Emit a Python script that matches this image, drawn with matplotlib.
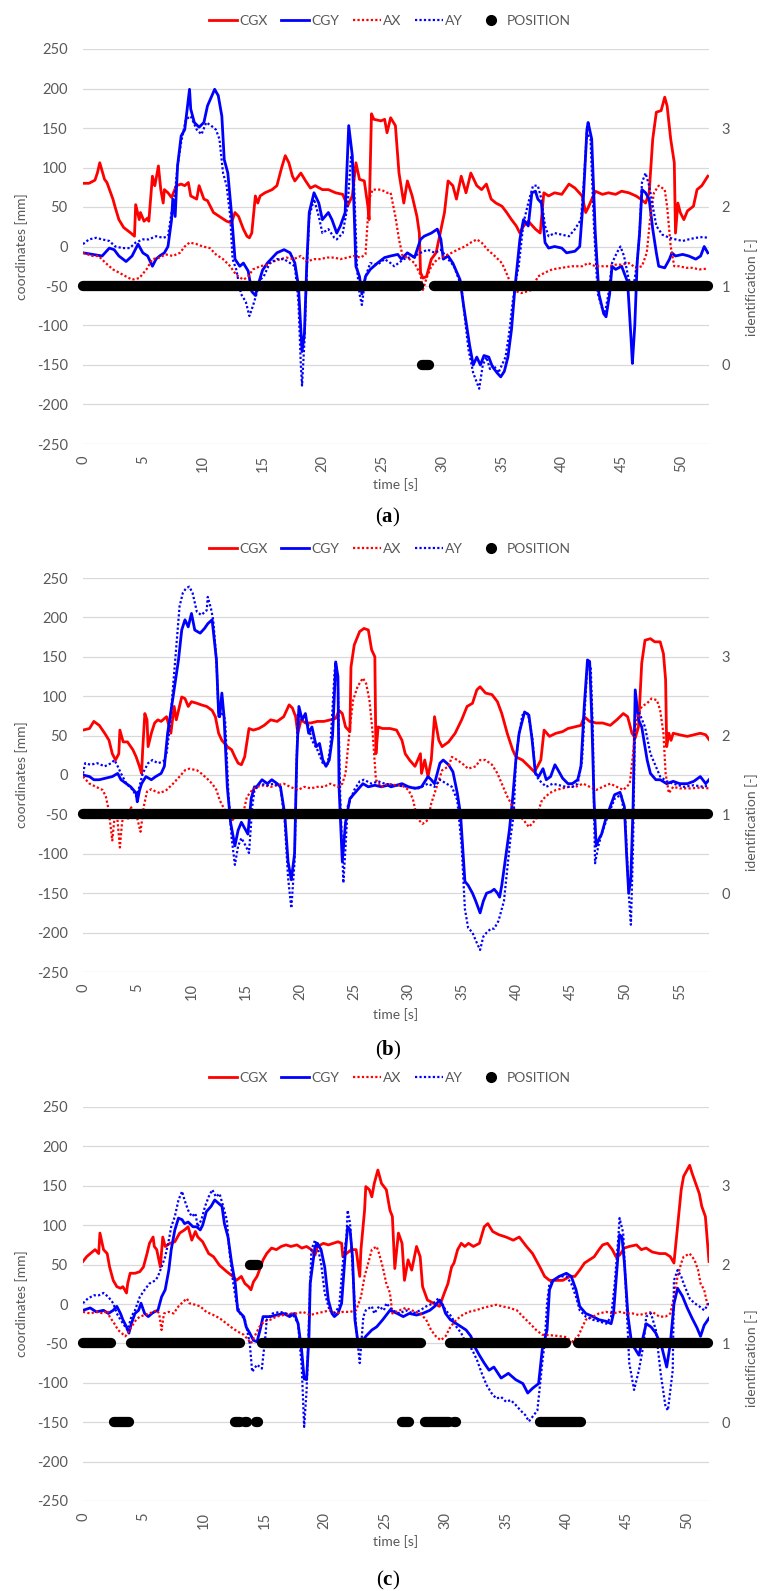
import matplotlib
matplotlib.use('Agg')
import matplotlib.pyplot as plt
from matplotlib.lines import Line2D

plt.rcParams['font.family'] = ['Lato', 'DejaVu Sans']
plt.rcParams['axes.unicode_minus'] = False
plt.rcParams['mathtext.fontset'] = 'custom'
plt.rcParams['mathtext.rm'] = 'Liberation Serif'
plt.rcParams['mathtext.bf'] = 'Liberation Serif:bold'

GREY = '#595959'
GRID = '#D9D9D9'
RED = '#FF0000'
BLUE = '#0000FF'

names = ['CGX', 'CGY', 'AX', 'AY']

# ---- panel (a): (time [s], value [mm]) ----
a_cgx = [(0, 80), (0.5, 80), (1.0, 84), (1.2, 93), (1.4, 106), (1.8, 85), (2.0, 81), (2.5, 60), (2.7, 49),
         (3.0, 34), (3.4, 24), (4.0, 17), (4.3, 13), (4.4, 53), (4.7, 34), (4.8, 43), (5.1, 32), (5.4, 36),
         (5.5, 32), (5.8, 89), (6.0, 77), (6.1, 85), (6.3, 102), (6.5, 72), (6.7, 55), (6.8, 72), (7.1, 68),
         (7.4, 62), (7.8, 77), (8.2, 79), (8.5, 77), (8.8, 81), (9.0, 64), (9.5, 60), (9.7, 77), (10.1, 60),
         (10.4, 58), (10.9, 43), (11.4, 38), (12.0, 32), (12.4, 30), (12.7, 43), (13.0, 38), (13.4, 22),
         (13.7, 13), (13.9, 11), (14.1, 17), (14.4, 64), (14.6, 55), (14.8, 64), (15.2, 68), (15.8, 72),
         (16.2, 77), (16.6, 100), (16.9, 115), (17.2, 106), (17.5, 89), (17.7, 83), (18.2, 93), (18.6, 83),
         (19.0, 74), (19.4, 77), (20.0, 72), (20.5, 72), (21.1, 68), (21.7, 66), (22.1, 51), (22.5, 64),
         (22.8, 106), (23.1, 85), (23.5, 83), (23.8, 51), (23.9, 34), (24.1, 168), (24.3, 161), (24.9, 159),
         (25.2, 161), (25.4, 144), (25.7, 163), (26.1, 153), (26.4, 93), (26.8, 55), (27.1, 83), (27.5, 64),
         (27.9, 38), (28.1, 17), (28.2, -33), (28.4, -40), (28.7, -38), (29.1, -16), (29.5, -8), (30.2, 43),
         (30.5, 83), (30.9, 77), (31.2, 60), (31.6, 89), (32.0, 68), (32.4, 93), (32.9, 77), (33.3, 72),
         (33.7, 79), (34.1, 60), (34.5, 55), (35.0, 51), (35.4, 43), (35.8, 34), (36.2, 26), (36.5, 17),
         (36.8, 26), (37.2, 32), (37.8, 22), (38.2, 17), (38.5, 68), (38.9, 64), (39.4, 68), (40.0, 66),
         (40.6, 79), (41.1, 74), (41.7, 64), (42.0, 43), (42.2, 49), (42.8, 70), (43.4, 66), (43.9, 68),
         (44.5, 66), (45.0, 70), (45.6, 68), (46.2, 64), (46.6, 60), (47.0, 55), (47.3, 68), (47.6, 136),
         (47.9, 170), (48.3, 172), (48.6, 189), (48.8, 178), (49.1, 136), (49.4, 106), (49.5, 17), (49.7, 55),
         (49.9, 43), (50.2, 34), (50.5, 45), (51.0, 51), (51.3, 72), (51.7, 77), (52.2, 89)]
a_cgy = [(0, -8), (0.8, -10), (1.6, -12), (2.2, -2), (2.6, -4), (3.0, -12), (3.6, -19), (4.1, -12), (4.6, 3),
         (5.0, -8), (5.4, -12), (5.8, -25), (6.1, -16), (6.4, -12), (6.8, -8), (7.1, 0), (7.4, 34), (7.5, 60),
         (7.7, 38), (7.9, 102), (8.2, 140), (8.5, 148), (8.9, 199), (9.0, 174), (9.3, 157), (9.7, 151),
         (10.1, 157), (10.4, 178), (11.0, 199), (11.3, 191), (11.6, 165), (11.8, 110), (12.1, 93), (12.4, 43),
         (12.7, -16), (13.1, -25), (13.4, -21), (13.8, -31), (14.1, -57), (14.4, -62), (14.7, -45), (15.0, -30),
         (15.4, -21), (16.2, -8), (16.8, -4), (17.3, -8), (17.7, -21), (18.0, -50), (18.3, -133), (18.5, -110),
         (18.7, -20), (18.9, 43), (19.3, 68), (19.7, 55), (20.0, 34), (20.5, 43), (20.8, 34), (21.2, 17),
         (21.5, 26), (21.9, 43), (22.2, 153), (22.5, 115), (22.8, -25), (23.1, -38), (23.3, -60), (23.6, -38),
         (24.0, -29), (24.6, -21), (25.2, -14), (25.7, -12), (26.3, -10), (26.6, -16), (27.1, -8), (27.7, -14),
         (28.2, 9), (28.5, 13), (29.1, 17), (29.6, 22), (29.9, 9), (30.1, -16), (30.5, -12), (30.9, -21),
         (31.5, -42), (31.8, -75), (32.0, -95), (32.3, -125), (32.6, -150), (32.9, -140), (33.2, -150),
         (33.5, -138), (33.9, -140), (34.2, -152), (34.6, -160), (34.9, -165), (35.2, -158), (35.5, -140),
         (35.8, -105), (36.1, -50), (36.5, 9), (36.8, 34), (37.2, 26), (37.5, 68), (37.8, 70), (38.0, 60),
         (38.3, 55), (38.6, 5), (38.9, -2), (39.4, 0), (40.0, -2), (40.4, -8), (41.1, -6), (41.5, 0), (41.8, 60),
         (42.1, 148), (42.2, 157), (42.5, 136), (42.8, 17), (43.1, -60), (43.5, -85), (43.7, -89), (44.0, -60),
         (44.2, -25), (44.5, -29), (45.0, -25), (45.5, -45), (45.8, -120), (45.9, -148), (46.1, -100),
         (46.3, -20), (46.5, 17), (46.7, 72), (47.0, 68), (47.3, 60), (47.6, 22), (47.9, -8), (48.1, -25),
         (48.6, -27), (49.0, -16), (49.2, -8), (49.5, -12), (50.1, -10), (50.6, -12), (51.2, -16), (51.6, -12),
         (51.9, 0), (52.2, -8)]
a_ax = [(0, -8), (0.8, -12), (1.3, -12), (1.9, -21), (2.5, -29), (3.0, -33), (3.6, -38), (4.1, -42), (4.7, -40),
        (5.3, -29), (5.8, -16), (6.4, -14), (6.9, -10), (7.5, -12), (8.1, -8), (8.5, 0), (8.9, 5), (9.5, 3),
        (10.0, 0), (10.6, -2), (11.1, -10), (11.7, -16), (12.3, -25), (12.8, -36), (13.4, -42), (13.8, -38),
        (14.2, -29), (14.8, -25), (15.4, -23), (15.9, -19), (16.5, -16), (17.0, -14), (17.6, -16), (18.2, -12),
        (18.7, -19), (19.3, -16), (19.8, -16), (20.4, -14), (21.0, -14), (21.5, -16), (22.1, -14), (22.6, -12),
        (23.2, -14), (23.6, -10), (23.9, 60), (24.2, 72), (24.9, 72), (25.4, 68), (25.7, 68), (26.1, 38),
        (26.4, 9), (26.7, -12), (27.1, -14), (27.7, -21), (28.2, -36), (28.4, -55), (28.7, -40), (29.1, -25),
        (29.6, -16), (30.2, -12), (30.8, -8), (31.3, -4), (31.9, 0), (32.4, 5), (32.9, 9), (33.3, 5), (33.8, -4),
        (34.4, -12), (35.0, -21), (35.5, -38), (35.9, -55), (36.6, -59), (37.5, -55), (38.0, -38), (38.6, -33),
        (39.2, -29), (40.0, -27), (40.8, -25), (41.7, -25), (42.2, -21), (42.8, -25), (43.4, -25), (43.9, -25),
        (44.5, -23), (45.0, -23), (45.6, -21), (46.2, -27), (46.7, -25), (47.1, -8), (47.4, 38), (47.7, 68),
        (48.1, 77), (48.6, 72), (48.8, 51), (49.1, 0), (49.4, -25), (49.8, -25), (50.4, -27), (50.9, -27),
        (51.5, -29), (52.2, -28)]
a_ay = [(0, 3), (0.5, 9), (1.1, 11), (1.6, 9), (2.2, 7), (2.7, 0), (3.3, -2), (3.9, -2), (4.4, 5), (5.0, 9),
        (5.5, 9), (6.1, 13), (6.7, 11), (7.1, 13), (7.4, 43), (7.6, 55), (7.9, 102), (8.2, 132), (8.6, 161),
        (9.0, 165), (9.5, 148), (9.9, 142), (10.3, 157), (10.7, 153), (11.1, 148), (11.4, 136), (11.7, 93),
        (12.0, 77), (12.3, 38), (12.5, -16), (12.8, -29), (13.2, -60), (13.6, -70), (13.9, -88), (14.2, -75),
        (14.5, -60), (14.8, -42), (15.1, -38), (15.6, -21), (16.2, -16), (16.8, -16), (17.3, -21), (17.7, -25),
        (18.0, -70), (18.2, -150), (18.3, -176), (18.5, -120), (18.7, -30), (18.9, 38), (19.3, 60), (19.7, 38),
        (20.0, 17), (20.5, 22), (21.0, 11), (21.2, 9), (21.7, 17), (22.1, 51), (22.4, 115), (22.6, 98),
        (22.9, -29), (23.1, -60), (23.3, -74), (23.6, -38), (24.0, -21), (24.6, -23), (25.2, -16), (25.7, -21),
        (26.0, -25), (26.8, -16), (27.7, -12), (28.2, -8), (28.8, -4), (29.4, -8), (29.9, -4), (30.5, -16),
        (31.0, -25), (31.6, -50), (31.9, -90), (32.2, -130), (32.6, -160), (32.9, -172), (33.1, -180),
        (33.4, -150), (33.7, -140), (34.0, -155), (34.3, -150), (34.7, -160), (35.0, -150), (35.3, -140),
        (35.6, -110), (35.9, -70), (36.2, -40), (36.4, -25), (36.8, 30), (37.2, 55), (37.6, 77), (38.0, 77),
        (38.3, 60), (38.6, 26), (38.9, 13), (39.4, 17), (40.0, 15), (40.6, 13), (41.1, 22), (41.6, 34),
        (41.8, 72), (42.1, 144), (42.4, 136), (42.7, 22), (43.0, -59), (43.4, -80), (43.6, -85), (43.9, -60),
        (44.2, -21), (44.6, -8), (44.9, 0), (45.2, -12), (45.6, -42), (46.0, -50), (46.3, -20), (46.5, 17),
        (46.7, 81), (47.0, 93), (47.3, 77), (47.6, 51), (47.9, 26), (48.4, 15), (49.0, 11), (49.5, 9),
        (50.1, 7), (50.6, 9), (51.2, 11), (51.8, 12), (52.2, 11)]
# identification segments: (start [s], end [s], id)
a_pos = [(0, 28.1, 1), (28.3, 28.9, 0), (29.3, 52.2, 1)]

# ---- panel (b) ----
b_cgx = [(0, 57), (0.6, 59), (1.0, 68), (1.5, 63), (2.0, 53), (2.4, 44), (2.7, 27), (3.0, 19), (3.3, 27),
         (3.4, 57), (3.7, 42), (4.1, 42), (4.6, 32), (4.9, 23), (5.2, 11), (5.4, 2), (5.5, 32), (5.7, 78),
         (5.9, 70), (6.0, 36), (6.3, 53), (6.6, 66), (6.9, 70), (7.2, 68), (7.7, 74), (8.1, 53), (8.4, 87),
         (8.6, 70), (9.1, 99), (9.4, 97), (9.7, 87), (10.0, 93), (10.5, 91), (10.9, 89), (11.4, 87), (11.9, 82),
         (12.2, 74), (12.5, 53), (12.8, 44), (13.3, 36), (13.7, 32), (14.0, 23), (14.3, 15), (14.6, 13),
         (14.9, 23), (15.3, 59), (15.7, 57), (16.2, 59), (16.7, 63), (17.3, 70), (17.9, 68), (18.5, 74),
         (19.0, 89), (19.3, 85), (19.6, 74), (19.8, 53), (20.1, 70), (20.5, 66), (21.0, 66), (21.6, 68),
         (22.2, 68), (22.8, 70), (23.3, 72), (23.6, 82), (23.9, 78), (24.2, 61), (24.6, 55), (24.7, 137),
         (25.0, 165), (25.5, 182), (25.9, 186), (26.3, 184), (26.6, 159), (26.9, 150), (27.0, 27), (27.2, 61),
         (27.6, 59), (28.3, 59), (28.9, 57), (29.4, 44), (29.7, 27), (30.1, 19), (30.6, 11), (31.1, 27),
         (31.2, 2), (31.5, 19), (31.8, -2), (32.1, 19), (32.4, 74), (32.8, 44), (33.1, 36), (33.7, 42),
         (34.3, 53), (34.9, 70), (35.4, 87), (35.9, 91), (36.3, 108), (36.6, 112), (37.1, 104), (37.7, 102),
         (38.2, 93), (38.6, 78), (39.1, 53), (39.6, 32), (39.9, 23), (40.5, 19), (41.1, 11), (41.6, 4),
         (41.9, 11), (42.2, 19), (42.5, 57), (43.0, 49), (43.6, 53), (44.2, 55), (44.7, 59), (45.3, 61),
         (45.9, 63), (46.2, 74), (46.7, 68), (47.3, 66), (47.9, 66), (48.6, 63), (49.2, 70), (49.8, 78),
         (50.2, 74), (50.6, 53), (50.9, 47), (51.2, 61), (51.5, 142), (51.8, 171), (52.3, 173), (52.7, 169),
         (53.2, 169), (53.5, 154), (53.7, 121), (53.8, 36), (54.0, 53), (54.2, 44), (54.4, 53), (55.0, 51),
         (55.7, 49), (56.3, 51), (56.9, 53), (57.4, 51), (57.7, 45)]
b_cgy = [(0, 0), (0.6, -2), (1.0, -6), (1.5, -6), (2.1, -4), (2.7, -2), (3.2, 2), (3.5, -6), (4.0, -11),
         (4.4, -15), (4.9, -23), (5.0, -34), (5.2, -20), (5.4, -11), (5.8, -2), (6.3, -6), (6.7, -2), (7.2, 2),
         (7.5, 11), (7.8, 53), (8.3, 99), (8.8, 146), (9.1, 184), (9.4, 197), (9.7, 188), (10.0, 205),
         (10.3, 184), (10.8, 180), (11.2, 186), (11.5, 192), (11.9, 197), (12.0, 184), (12.3, 146), (12.5, 78),
         (12.6, 74), (12.8, 104), (13.0, 74), (13.3, -15), (13.6, -60), (14.0, -90), (14.3, -70), (14.6, -60),
         (15.0, -70), (15.2, -75), (15.5, -30), (15.8, -15), (16.0, -15), (16.5, -6), (17.0, -11), (17.4, -6),
         (17.9, -11), (18.2, -15), (18.6, -50), (18.9, -110), (19.2, -133), (19.5, -100), (19.7, 20),
         (19.9, 87), (20.2, 70), (20.5, 78), (20.8, 53), (21.1, 61), (21.5, 36), (21.8, 40), (22.1, 19),
         (22.4, 11), (22.7, 19), (23.0, 49), (23.2, 112), (23.3, 142), (23.5, 125), (23.6, -15), (23.9, -110),
         (24.2, -60), (24.6, -30), (25.3, -19), (25.8, -11), (26.3, -15), (26.9, -13), (27.5, -15), (28.1, -13),
         (28.4, -15), (29.4, -11), (30.0, -15), (30.6, -17), (31.2, -15), (31.8, -2), (32.1, -6), (32.4, -11),
         (32.9, 15), (33.2, 19), (33.7, 13), (34.1, 4), (34.5, -23), (34.8, -50), (35.2, -135), (35.5, -140),
         (35.9, -150), (36.2, -160), (36.6, -175), (36.9, -160), (37.2, -150), (37.6, -148), (37.9, -145),
         (38.2, -150), (38.4, -155), (38.6, -140), (39.0, -100), (39.3, -70), (39.6, -30), (39.9, 19),
         (40.2, 53), (40.7, 80), (41.1, 76), (41.4, 44), (41.7, 2), (42.0, -2), (42.4, 8), (42.7, -6),
         (43.1, -2), (43.5, 13), (43.8, 6), (44.2, -4), (44.7, -11), (45.1, -11), (45.6, -6), (45.9, 11),
         (46.2, 87), (46.5, 146), (46.7, 144), (46.9, 70), (47.1, -30), (47.3, -90), (47.6, -80), (47.8, -75),
         (48.2, -55), (48.6, -40), (49.0, -25), (49.5, -22), (49.9, -40), (50.1, -100), (50.3, -150),
         (50.5, -130), (50.7, -40), (50.9, 108), (51.2, 70), (51.5, 61), (52.0, 19), (52.3, 2), (52.8, -6),
         (53.2, -6), (53.8, -11), (54.4, -8), (55.0, -11), (55.7, -11), (56.3, -8), (56.9, -2), (57.4, -11),
         (57.7, -6)]
b_ax = [(0, -2), (0.6, -11), (1.2, -15), (1.8, -19), (2.1, -27), (2.3, -40), (2.5, -60), (2.7, -83), (2.9, -55),
        (3.1, -45), (3.4, -92), (3.6, -60), (3.9, -45), (4.1, -57), (4.4, -40), (4.7, -50), (5.0, -55),
        (5.3, -72), (5.6, -40), (5.9, -21), (6.3, -18), (6.7, -21), (7.1, -23), (7.7, -19), (8.3, -11),
        (8.9, -2), (9.4, 6), (9.8, 8), (10.5, 6), (10.9, 2), (11.4, -4), (11.9, -11), (12.3, -19), (12.6, -32),
        (12.9, -40), (13.3, -50), (13.8, -57), (14.2, -50), (14.7, -53), (15.1, -28), (15.6, -19), (16.0, -15),
        (16.7, -13), (17.3, -15), (17.9, -13), (18.5, -11), (19.1, -15), (19.8, -19), (20.4, -15), (21.0, -17),
        (21.6, -15), (22.2, -15), (22.8, -11), (23.5, -15), (23.9, -11), (24.2, 2), (24.6, 61), (24.9, 95),
        (25.3, 112), (25.8, 123), (26.1, 116), (26.4, 95), (26.7, 53), (27.0, -6), (27.5, -15), (28.1, -11),
        (28.9, -13), (29.5, -14), (30.0, -19), (30.4, -30), (30.8, -55), (31.3, -62), (31.8, -57), (32.1, -36),
        (32.6, -15), (33.1, 6), (33.7, 11), (34.0, 23), (34.5, 19), (35.1, 13), (35.5, 8), (36.2, 11),
        (36.6, 19), (37.1, 19), (37.7, 13), (38.2, 2), (38.6, -11), (39.1, -27), (39.6, -40), (40.1, -50),
        (40.6, -57), (41.1, -66), (41.7, -57), (42.3, -32), (43.0, -23), (43.6, -19), (44.2, -17), (44.8, -15),
        (45.4, -15), (46.1, -11), (46.7, -15), (47.3, -19), (47.9, -15), (48.6, -11), (49.2, -15), (49.8, -19),
        (50.4, -11), (50.7, 27), (51.0, 70), (51.5, 87), (52.0, 91), (52.4, 97), (52.9, 95), (53.2, 82),
        (53.5, 53), (53.7, 2), (54.0, -23), (54.4, -15), (55.0, -17), (56.0, -17), (56.9, -16), (57.7, -17)]
b_ay = [(0, 2), (0.2, 15), (0.7, 13), (1.3, 15), (2.0, 11), (2.6, 15), (2.9, 19), (3.2, 11), (3.5, 2), (4.0, -11),
        (4.6, -19), (4.9, -27), (5.2, -15), (5.5, 2), (6.0, 15), (6.4, 19), (6.9, 15), (7.4, 17), (7.7, 27),
        (8.0, 61), (8.3, 112), (8.6, 163), (8.9, 214), (9.2, 231), (9.5, 237), (9.8, 239), (10.1, 231),
        (10.5, 207), (10.9, 203), (11.4, 209), (11.5, 226), (11.8, 211), (12.0, 197), (12.3, 146), (12.5, 74),
        (12.8, 80), (13.1, 70), (13.4, -23), (13.7, -80), (14.0, -114), (14.3, -90), (14.6, -80), (15.0, -90),
        (15.3, -99), (15.6, -40), (15.8, -20), (16.3, -11), (17.0, -13), (17.6, -11), (18.2, -15), (18.6, -60),
        (18.9, -130), (19.2, -169), (19.5, -110), (19.7, 20), (19.8, 78), (20.2, 70), (20.7, 66), (21.1, 44),
        (21.6, 32), (22.1, 15), (22.5, 11), (22.8, 36), (23.2, 133), (23.3, 146), (23.5, 112), (23.7, -23),
        (24.0, -137), (24.2, -90), (24.4, -40), (25.0, -19), (25.5, -8), (25.9, -6), (26.6, -11), (27.2, -8),
        (27.8, -11), (28.7, -13), (30.0, -15), (30.9, -17), (31.8, -11), (32.4, -15), (32.9, -6), (33.5, -11),
        (34.0, -15), (34.5, -32), (34.9, -90), (35.2, -170), (35.5, -194), (35.9, -200), (36.2, -210),
        (36.6, -222), (36.9, -205), (37.2, -200), (37.6, -195), (37.9, -195), (38.3, -185), (38.6, -170),
        (38.8, -160), (39.1, -120), (39.4, -80), (39.7, -50), (39.9, 19), (40.2, 53), (40.5, 76), (41.0, 78),
        (41.4, 49), (41.7, 2), (42.0, -6), (42.7, -15), (43.3, -11), (43.9, -13), (44.5, -15), (45.1, -15),
        (45.6, -11), (46.0, 19), (46.3, 95), (46.5, 142), (46.8, 137), (47.0, 53), (47.1, -40), (47.2, -112),
        (47.5, -90), (47.8, -75), (48.3, -55), (49.0, -30), (49.6, -25), (50.0, -60), (50.3, -150),
        (50.5, -190), (50.7, -90), (50.9, 87), (51.3, 78), (51.8, 61), (52.3, 27), (52.8, 11), (53.2, -2),
        (53.8, -8), (54.4, -11), (55.4, -15), (56.3, -13), (57.2, -15), (57.7, -13)]
b_pos = [(0, 57.6, 1)]

# ---- panel (c) ----
c_cgx = [(0, 54), (0.3, 60), (0.6, 64), (1.0, 69), (1.3, 64), (1.4, 90), (1.7, 69), (2.0, 64), (2.2, 47),
         (2.5, 30), (2.8, 22), (3.1, 20), (3.3, 22), (3.6, 14), (3.7, 26), (3.9, 39), (4.3, 39), (4.7, 41),
         (5.0, 47), (5.3, 64), (5.5, 77), (5.8, 85), (5.9, 73), (6.1, 69), (6.4, 47), (6.6, 85), (6.8, 73),
         (7.2, 77), (7.6, 79), (8.0, 90), (8.4, 94), (8.7, 98), (9.0, 81), (9.3, 92), (9.5, 85), (9.9, 79),
         (10.4, 64), (10.8, 60), (11.3, 49), (11.9, 41), (12.4, 35), (12.7, 30), (13.1, 35), (13.4, 26),
         (13.7, 22), (13.9, 18), (14.1, 28), (14.4, 35), (14.6, 43), (14.9, 56), (15.2, 64), (15.6, 71),
         (16.0, 69), (16.4, 73), (16.8, 75), (17.2, 73), (17.7, 75), (18.1, 71), (18.5, 73), (18.9, 69),
         (19.2, 62), (19.4, 73), (19.9, 77), (20.3, 75), (20.7, 77), (21.1, 79), (21.4, 77), (21.5, 60),
         (21.8, 64), (22.2, 69), (22.6, 69), (22.9, 35), (23.0, 69), (23.3, 119), (23.4, 149), (23.7, 145),
         (23.9, 136), (24.1, 153), (24.4, 170), (24.7, 153), (25.1, 145), (25.4, 119), (25.6, 111), (25.8, 45),
         (26.1, 90), (26.4, 77), (26.6, 30), (26.9, 56), (27.2, 43), (27.6, 73), (27.9, 60), (28.1, 22),
         (28.5, 5), (29.0, 1), (29.5, -3), (29.9, 14), (30.2, 26), (30.5, 47), (30.7, 52), (31.0, 69),
         (31.3, 77), (31.6, 73), (31.9, 77), (32.3, 73), (32.8, 77), (33.2, 98), (33.5, 102), (33.9, 92),
         (34.4, 88), (35.0, 85), (35.6, 81), (36.1, 85), (36.7, 73), (37.2, 64), (37.8, 47), (38.2, 35),
         (38.6, 30), (39.2, 30), (39.7, 30), (40.3, 35), (40.7, 35), (41.1, 43), (41.5, 52), (41.9, 56),
         (42.3, 60), (42.7, 69), (43.0, 75), (43.4, 77), (43.8, 69), (44.1, 60), (44.4, 62), (44.8, 71),
         (45.2, 73), (45.8, 75), (46.2, 69), (46.6, 71), (47.1, 66), (47.7, 64), (48.2, 64), (48.6, 60),
         (48.9, 52), (49.2, 98), (49.5, 145), (49.7, 162), (50.2, 176), (50.4, 166), (50.7, 153), (51.0, 140),
         (51.2, 124), (51.5, 111), (51.8, 54)]
c_cgy = [(0, -8), (0.6, -5), (1.1, -10), (1.7, -8), (2.1, -12), (2.5, -8), (2.8, -3), (3.1, -12), (3.3, -20),
         (3.6, -29), (3.8, -37), (4.0, -25), (4.3, -12), (4.6, -8), (4.8, 1), (5.1, -12), (5.4, -16), (5.7, -12),
         (5.9, -10), (6.2, -8), (6.5, 9), (6.8, 18), (7.1, 43), (7.3, 69), (7.6, 94), (7.9, 109), (8.2, 107),
         (8.4, 102), (8.7, 104), (9.1, 98), (9.4, 98), (9.7, 94), (9.9, 100), (10.2, 117), (10.6, 124),
         (10.9, 132), (11.2, 128), (11.5, 124), (11.7, 102), (12.0, 85), (12.3, 52), (12.6, 26), (12.8, -8),
         (13.3, -16), (13.5, -29), (13.8, -37), (14.1, -46), (14.4, -48), (14.7, -30), (14.9, -16), (15.5, -16),
         (16.0, -14), (16.6, -12), (17.1, -16), (17.5, -12), (17.8, -25), (18.1, -60), (18.3, -95), (18.5, -96),
         (18.7, -40), (18.8, 26), (19.2, 73), (19.4, 77), (19.7, 69), (20.0, 47), (20.3, 5), (20.6, -12),
         (20.8, -16), (21.1, -12), (21.4, 1), (21.7, 64), (21.9, 98), (22.1, 94), (22.3, 60), (22.5, -20),
         (22.8, -54), (23.0, -50), (23.4, -41), (23.9, -33), (24.3, -29), (24.8, -20), (25.4, -8), (26.0, -12),
         (26.5, -16), (27.0, -12), (27.6, -14), (28.1, -12), (28.7, -8), (29.1, -3), (29.5, 5), (29.8, -3),
         (30.0, -12), (30.4, -20), (30.9, -25), (31.3, -29), (31.7, -33), (32.1, -41), (32.4, -54), (32.8, -65),
         (33.2, -75), (33.6, -84), (34.0, -80), (34.6, -94), (35.2, -88), (35.8, -96), (36.4, -101),
         (36.8, -113), (37.2, -107), (37.7, -101), (38.0, -58), (38.4, -33), (38.6, 18), (38.9, 30), (39.4, 35),
         (40.0, 39), (40.4, 35), (40.8, 18), (41.1, -3), (41.6, -12), (42.2, -16), (42.7, -20), (43.3, -22),
         (43.7, -25), (43.9, -12), (44.2, 47), (44.4, 88), (44.6, 85), (44.8, 52), (45.1, -16), (45.4, -50),
         (46.0, -65), (46.3, -45), (46.6, -25), (47.0, -29), (47.4, -37), (47.9, -55), (48.3, -80), (48.6, -50),
         (48.9, 0), (49.2, 20), (49.6, 10), (50.0, -5), (50.4, -18), (50.8, -30), (51.1, -41), (51.4, -27),
         (51.8, -18)]
c_ax = [(0, -10), (0.6, -12), (1.1, -10), (1.7, -12), (2.0, -8), (2.2, -16), (2.6, -25), (2.9, -33), (3.2, -37),
        (3.5, -41), (3.7, -37), (4.0, -29), (4.4, -20), (4.7, -16), (5.1, -14), (5.5, -12), (6.1, -8), (6.3, -12),
        (6.5, -33), (6.7, -12), (7.1, -10), (7.5, -12), (7.9, -3), (8.3, 3), (8.6, 7), (8.8, 1), (9.3, -1),
        (9.7, -3), (10.2, -10), (10.8, -14), (11.3, -18), (11.9, -25), (12.4, -31), (12.8, -35), (13.3, -39),
        (13.7, -46), (13.9, -50), (14.2, -41), (14.6, -29), (15.0, -22), (15.5, -20), (16.0, -16), (16.6, -14),
        (17.1, -12), (17.7, -12), (18.2, -10), (18.8, -14), (19.3, -12), (19.9, -10), (20.4, -8), (21.0, -12),
        (21.5, -10), (22.1, -10), (22.6, -8), (23.0, 9), (23.3, 35), (23.6, 52), (23.9, 69), (24.3, 73),
        (24.5, 64), (24.8, 47), (25.1, 26), (25.4, 14), (25.6, -12), (26.2, -8), (26.7, -5), (27.2, -8),
        (27.9, -12), (28.4, -20), (28.8, -33), (29.2, -41), (29.6, -46), (30.0, -41), (30.4, -29), (30.9, -20),
        (31.4, -14), (31.9, -10), (32.5, -8), (33.1, -5), (33.6, -3), (34.2, -1), (34.7, -3), (35.3, -5),
        (35.9, -8), (36.4, -16), (37.0, -25), (37.5, -33), (38.0, -39), (39.0, -40), (40.0, -42), (40.5, -48),
        (41.0, -40), (41.6, -20), (42.2, -16), (42.7, -12), (43.3, -10), (43.8, -12), (44.4, -10), (45.0, -12),
        (45.5, -12), (46.0, -14), (46.6, -12), (47.1, -10), (47.7, -16), (48.2, -16), (48.6, -12), (48.9, 9),
        (49.2, 35), (49.5, 52), (49.7, 60), (50.2, 64), (50.6, 56), (50.9, 43), (51.1, 26), (51.4, 18),
        (51.7, -3)]
c_ay = [(0, 1), (0.4, 7), (0.9, 11), (1.3, 11), (1.7, 14), (2.1, 9), (2.5, 1), (2.8, -12), (3.1, -20), (3.5, -29),
        (3.7, -33), (4.0, -16), (4.3, -8), (4.7, 9), (5.1, 18), (5.5, 26), (6.0, 30), (6.2, 35), (6.5, 47),
        (6.8, 60), (7.1, 81), (7.3, 98), (7.6, 111), (7.9, 132), (8.2, 143), (8.4, 132), (8.7, 119), (9.0, 111),
        (9.3, 115), (9.5, 98), (9.8, 107), (10.1, 124), (10.4, 136), (10.7, 145), (11.0, 136), (11.3, 140),
        (11.6, 124), (11.9, 107), (12.1, 69), (12.4, 30), (12.7, 1), (13.0, -12), (13.4, -20), (13.8, -50),
        (14.0, -86), (14.4, -77), (14.8, -82), (15.1, -40), (15.2, -20), (15.7, -12), (16.3, -10), (16.8, -12),
        (17.4, -14), (17.8, -25), (18.1, -80), (18.3, -156), (18.5, -110), (18.7, -20), (18.9, 69), (19.2, 81),
        (19.4, 73), (19.7, 52), (20.0, 14), (20.4, -8), (20.8, -12), (21.2, -3), (21.5, 52), (21.8, 85),
        (21.9, 119), (22.1, 102), (22.3, 47), (22.6, -30), (22.9, -75), (23.2, -16), (23.4, -8), (23.9, -3),
        (24.1, -12), (24.5, -3), (24.9, -8), (25.1, 1), (25.6, -8), (26.2, -12), (26.7, -8), (27.3, -12),
        (27.9, -8), (28.4, -3), (29.0, 1), (29.4, 7), (29.7, 1), (30.0, -8), (30.5, -16), (30.9, -29),
        (31.3, -37), (31.7, -50), (32.2, -58), (32.6, -71), (33.0, -88), (33.4, -103), (33.8, -113),
        (34.2, -120), (34.6, -118), (35.0, -124), (35.4, -122), (35.8, -128), (36.2, -135), (36.6, -141),
        (36.9, -149), (37.2, -143), (37.6, -135), (38.0, -75), (38.2, -50), (38.4, 1), (38.6, 26), (39.0, 30),
        (39.4, 35), (40.0, 35), (40.4, 26), (40.8, 9), (41.1, -8), (41.6, -16), (42.2, -20), (42.7, -22),
        (43.3, -25), (43.7, -16), (44.0, 26), (44.3, 85), (44.4, 109), (44.7, 90), (44.9, 26), (45.2, -75),
        (45.6, -109), (46.0, -84), (46.4, -50), (46.6, -16), (47.0, -12), (47.4, -33), (47.8, -88),
        (48.2, -130), (48.4, -135), (48.8, -84), (48.9, 30), (49.2, 43), (49.5, 35), (49.7, 26), (50.2, 7),
        (50.6, 1), (51.0, -3), (51.4, -8), (51.8, 1)]
c_pos = [(0, 2.3, 1), (4.0, 13.0, 1), (14.8, 28.0, 1), (30.4, 40.0, 1), (41.0, 51.7, 1),
         (2.6, 3.8, 0), (12.6, 13.0, 0), (13.4, 13.6, 0), (14.3, 14.5, 0), (26.4, 27.0, 0),
         (28.3, 30.3, 0), (30.7, 30.9, 0), (37.8, 41.2, 0), (13.8, 14.5, 2)]

colors = [RED, BLUE, RED, BLUE]
styles = ['-', '-', (0, (1, 1)), (0, (1, 1))]
widths = [2.0, 2.0, 1.6, 1.6]

W, H = 760, 1591
fig = plt.figure(figsize=(W / 100, H / 100), dpi=100)


def draw_panel(top, bottom, xmax, xticks, series, pos, letter, leg_y, time_y, cap_y, ident_y):
    ax = fig.add_axes([83 / W, 1 - bottom / H, 626 / W, (bottom - top) / H])
    lines = []
    for pts, c, ls, lw, name in zip(series, colors, styles, widths, names):
        t, v = zip(*pts)
        ln, = ax.plot(t, v, color=c, ls=ls, lw=lw, label=name)
        lines.append(ln)
    ax.set_ylim(-250, 250)
    ax.set_yticks(range(-250, 251, 50))
    ax.set_xticks(xticks)
    ax.tick_params(axis='x', length=0, pad=8, labelcolor=GREY, labelsize=10.5, labelrotation=90)
    ax.tick_params(axis='y', length=0, pad=11, labelcolor=GREY, labelsize=10.5)
    ax.grid(axis='y', color=GRID, lw=0.9)
    ax.set_axisbelow(True)
    for s in ax.spines.values():
        s.set_visible(False)

    # identification on the secondary axis
    ax2 = ax.twinx()
    for t0, t1, lvl in pos:
        ax2.plot([t0, t1], [lvl, lvl], color='black', lw=7.4, solid_capstyle='round', clip_on=False)
    ax2.set_ylim(-1, 4)
    ax2.set_yticks([0, 1, 2, 3])
    ax2.tick_params(axis='y', length=0, pad=9, labelcolor=GREY, labelsize=10.5)
    for s in ax2.spines.values():
        s.set_visible(False)
    ax.set_xlim(0, xmax)

    handles = lines + [Line2D([], [], color='black', marker='o', ls='none', markersize=7)]
    ax.legend(handles, names + ['POSITION'], loc='center', bbox_to_anchor=(390 / W, 1 - leg_y / H),
              bbox_transform=fig.transFigure, ncol=5, frameon=False, fontsize=10, labelcolor=GREY,
              handlelength=2.0, handletextpad=0.15, columnspacing=1.0)

    fig.text(22 / W, 1 - (top + bottom) / 2 / H, 'coordinates [mm]', rotation=90, ha='center', va='center',
             color=GREY, fontsize=10)
    fig.text(752 / W, 1 - ident_y / H, 'identification [-]', rotation=90, ha='center', va='center',
             color=GREY, fontsize=10)
    fig.text(396 / W, 1 - time_y / H, 'time [s]', ha='center', va='center', color=GREY, fontsize=10)
    fig.text(388 / W, 1 - cap_y / H, r'($\mathbf{' + letter + '}$)', ha='center', va='center',
             color='black', fontsize=15, family='Liberation Serif')


draw_panel(49, 444, 52.3, range(0, 51, 5), [a_cgx, a_cgy, a_ax, a_ay], a_pos, 'a', 21, 485, 517, 287)
draw_panel(578, 972, 57.7, range(0, 56, 5), [b_cgx, b_cgy, b_ax, b_ay], b_pos, 'b', 549, 1015, 1050, 822)
draw_panel(1107, 1501, 51.8, range(0, 51, 5), [c_cgx, c_cgy, c_ax, c_ay], c_pos, 'c', 1078, 1542, 1580, 1358)

fig.savefig('out.png', dpi=100)
